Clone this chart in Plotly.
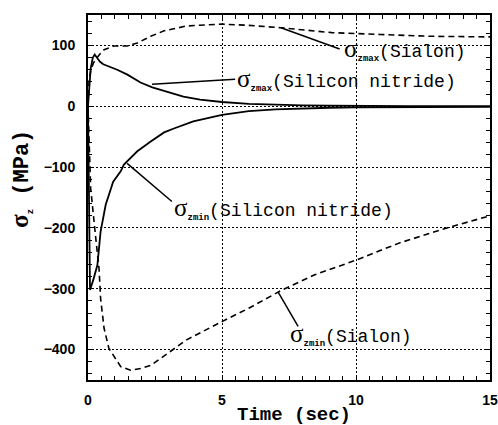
import plotly.graph_objects as go

# ---- data ----
t_sn_max = [0, 0.04, 0.1, 0.18, 0.25, 0.35, 0.45, 0.57, 0.8, 1.09, 1.47, 1.96, 2.4, 2.84, 3.56, 4.18, 5, 6, 7, 8, 9, 10, 12, 15]
sn_max   = [0, 30, 62, 80, 85, 79, 73, 69, 65, 60, 52, 39, 31, 25, 16, 11, 7, 4, 2.5, 1.6, 1.0, 0.6, 0.3, 0.2]

t_sn_min = [0, 0.075, 0.2, 0.35, 0.47, 0.66, 0.94, 1.22, 1.34, 1.84, 2.34, 2.84, 3.18, 3.93, 5, 6, 7, 8, 9, 10, 12, 15]
sn_min   = [0, -302, -285, -261, -206, -162, -124, -107, -96, -74, -58, -43, -37, -25, -14, -8, -5, -3.5, -2.5, -2, -1.5, -1]

t_si_max = [0, 0.04, 0.1, 0.2, 0.41, 0.6, 0.97, 1.47, 1.84, 2.34, 2.84, 3.68, 5, 6, 7.2, 9.1, 10.9, 12.8, 15]
si_max   = [0, 41, 58, 71, 84, 93, 99, 99, 104, 115, 124, 132, 135, 133, 129, 121, 118, 115, 114]

t_si_min = [0, 0.1, 0.29, 0.41, 0.47, 0.6, 0.78, 0.97, 1.22, 1.59, 1.97, 2.34, 2.9, 3.68, 5, 6, 7.2, 8.46, 10, 11.6, 13.4, 15]
si_min   = [0, -135, -217, -266, -316, -365, -398, -412, -428, -434, -431, -426, -408, -384, -354, -332, -303, -277, -253, -225, -200, -180]

x_ticks = [0, 5, 10, 15]
y_ticks = [-400, -300, -200, -100, 0, 100]

# ---- styling ----
MONO = "Liberation Mono"
SANS = "Liberation Sans"
SERIF = "Liberation Serif"

fig = go.Figure()
solid = dict(color="black", width=1.8)
dashed = dict(color="black", width=1.6, dash="6px,4px")
fig.add_trace(go.Scatter(x=t_sn_max, y=sn_max, mode="lines", line=solid))
fig.add_trace(go.Scatter(x=t_sn_min, y=sn_min, mode="lines", line=solid))
fig.add_trace(go.Scatter(x=t_si_max, y=si_max, mode="lines", line=dashed))
fig.add_trace(go.Scatter(x=t_si_min, y=si_min, mode="lines", line=dashed))

axis_common = dict(
    showline=True, linecolor="black", linewidth=2, mirror="allticks",
    ticks="inside", ticklen=5, tickwidth=1, tickcolor="black",
    showgrid=True, gridcolor="black", gridwidth=1, griddash="2px,2px",
    zeroline=False, automargin=False, layer="above traces",
    ticklabeloverflow="allow",
    tickfont=dict(family=SANS, size=14, color="black", weight="bold"),
)
fig.update_xaxes(range=[0, 15], tickvals=x_ticks, ticklabelstandoff=6,
                 minor=dict(dtick=0.5, ticks="inside", ticklen=4, tickcolor="black", showgrid=False),
                 **axis_common)
fig.update_yaxes(range=[-450, 150], tickvals=y_ticks, ticklabelstandoff=8,
                 minor=dict(dtick=20, ticks="inside", ticklen=4, tickcolor="black", showgrid=False),
                 **axis_common)

SIG = f"<span style='font-family:{SERIF};font-size:25px'>σ</span>"
def sub(s):
    return f"<sub><span style='font-size:9px;font-weight:bold'>{s}</span></sub>"

labels = [
    (SIG + sub("zmax") + "(Sialon)", 9.47, 93),
    (SIG + sub("zmax") + "(Silicon nitride)", 5.5, 44),
    (SIG + sub("zmin") + "(Silicon nitride)", 3.12, -168),
    (SIG + sub("zmin") + "(Sialon)", 7.46, -375),
]
for txt, x, y in labels:
    fig.add_annotation(x=x, y=y, xref="x", yref="y", text=txt, showarrow=False,
                       xanchor="left", yanchor="middle",
                       font=dict(family=MONO, size=18, color="black"))

leaders = [
    (7.2, 129, 9.39, 94),
    (2.39, 36, 5.49, 44.5),
    (1.46, -94, 3.13, -156.5),
    (7.09, -305, 7.84, -362),
]
for x0, y0, x1, y1 in leaders:
    fig.add_shape(type="line", xref="x", yref="y", x0=x0, y0=y0, x1=x1, y1=y1,
                  line=dict(color="black", width=1.5))

# axis titles
fig.add_annotation(xref="paper", yref="paper", x=0.5124, y=-0.095, showarrow=False,
                   text="Time (sec)", xanchor="center", yanchor="middle",
                   font=dict(family=MONO, size=19, color="black", weight="bold"))
fig.add_annotation(xref="paper", yref="paper", x=-0.165, y=0.55, showarrow=False,
                   text=SIG + sub("z") + " (MPa)", textangle=-90,
                   xanchor="center", yanchor="middle",
                   font=dict(family=MONO, size=22, color="black", weight="bold"))

fig.update_layout(
    template="none",
    width=498, height=425,
    margin=dict(l=88, r=8, t=15, b=45, autoexpand=False),
    paper_bgcolor="white", plot_bgcolor="white",
    showlegend=False, hovermode=False,
)
fig.write_html("out.html", config={"displayModeBar": False, "staticPlot": True},
               post_script="document.body.style.margin='0';document.body.style.overflow='hidden';")
